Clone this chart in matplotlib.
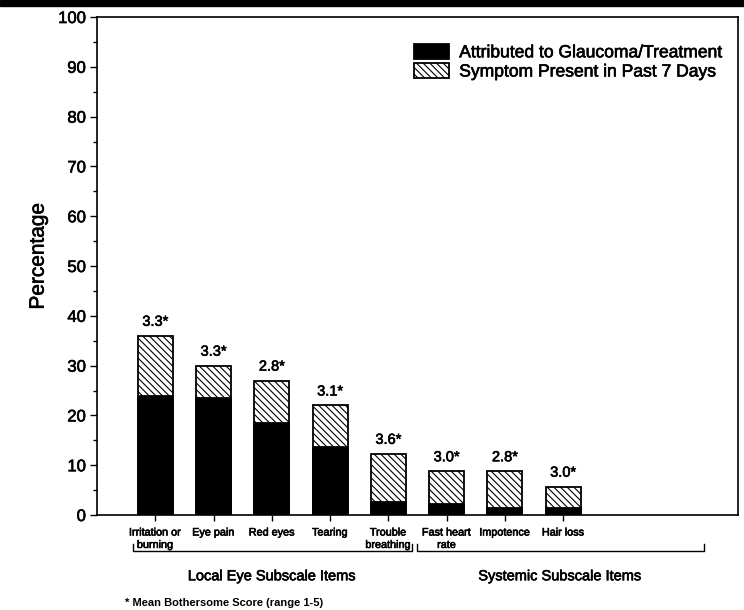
import matplotlib
matplotlib.use("Agg")
import matplotlib.pyplot as plt
import matplotlib.patheffects as pe
from matplotlib.patches import Rectangle
from matplotlib.transforms import blended_transform_factory
from matplotlib.ticker import MultipleLocator

plt.rcParams['font.family'] = ['Liberation Sans', 'DejaVu Sans']
plt.rcParams['hatch.linewidth'] = 0.8

categories = ["Irritation or\nburning", "Eye pain", "Red eyes", "Tearing",
              "Trouble\nbreathing", "Fast heart\nrate", "Impotence", "Hair loss"]
symptom_present = [36, 30, 27, 22, 12.3, 8.8, 8.8, 5.7]
attributed = [24, 23.5, 18.5, 13.7, 2.6, 2.3, 1.4, 1.4]
bother_scores = ["3.3", "3.3", "2.8", "3.1", "3.6", "3.0", "2.8", "3.0"]
groups = ["Local Eye Subscale Items", "Systemic Subscale Items"]
footnote = "* Mean Bothersome Score (range 1-5)"

heavy = [pe.withStroke(linewidth=0.45, foreground="black")]

fig = plt.figure(figsize=(7.44, 6.10), dpi=100)
ax = fig.add_axes([0.1304, 0.1557, 0.8615, 0.8164])

x = list(range(len(categories)))
w = 0.6
ax.bar(x, symptom_present, width=w, color="white", edgecolor="black",
       linewidth=1.3, hatch="\\\\\\\\\\", label="Symptom Present in Past 7 Days", zorder=2)
ax.bar(x, attributed, width=w, color="black", edgecolor="black",
       linewidth=1.3, label="Attributed to Glaucoma/Treatment", zorder=3)

for xi, h, s in zip(x, symptom_present, bother_scores):
    ax.annotate(s + "*", (xi, h), xytext=(0, 5), textcoords="offset points",
                ha="center", va="bottom", fontsize=10.5, path_effects=heavy)

ax.set_xlim(-1, 10)
ax.set_ylim(0, 100)
ax.yaxis.set_major_locator(MultipleLocator(10))
ax.yaxis.set_minor_locator(MultipleLocator(5))
ax.tick_params(axis="y", which="major", length=5, width=1, labelsize=12, pad=3)
ax.tick_params(axis="y", which="minor", length=3, width=1)
ax.set_xticks(x)
ax.set_xticklabels(categories, fontsize=7.8, linespacing=1.3,
                   family=["Liberation Sans Narrow", "Liberation Sans"])
ax.tick_params(axis="x", length=4, width=1, pad=5)
for lab in ax.get_xticklabels() + ax.get_yticklabels():
    lab.set_path_effects(heavy)
for sp in ax.spines.values():
    sp.set_linewidth(1.2)
ax.set_ylabel("Percentage", fontsize=15, labelpad=6, path_effects=heavy)
ax.yaxis.set_label_coords(-0.077, 0.52)

handles, labels = ax.get_legend_handles_labels()
leg = ax.legend(handles[::-1], labels[::-1], loc="upper right", frameon=False,
                fontsize=12.6, handlelength=2.0, handleheight=0.95, handletextpad=0.6,
                labelspacing=0.15, bbox_to_anchor=(1.0, 0.978))
for t in leg.get_texts():
    t.set_path_effects(heavy)

# group brackets below the category labels
tr = blended_transform_factory(ax.transData, ax.transAxes)
spans = [(-0.39, 4.41), (4.49, 9.42)]
y_line, y_end = -0.073, -0.058
for (x0, x1), name in zip(spans, groups):
    ax.plot([x0, x0, x1, x1], [y_end, y_line, y_line, y_end], color="black",
            linewidth=1.0, transform=tr, clip_on=False)
    ax.text((x0 + x1) / 2, -0.123, name, transform=tr, ha="center",
            va="center", fontsize=10.5, path_effects=heavy)

fig.text(0.168, 0.0115, footnote, ha="left", va="center", fontsize=8,
         fontweight="bold")

# dark band along the top edge
fig.patches.append(Rectangle((0, 0.99), 1, 0.01, transform=fig.transFigure,
                             color="black", zorder=10))

fig.savefig("out.png", dpi=100)
